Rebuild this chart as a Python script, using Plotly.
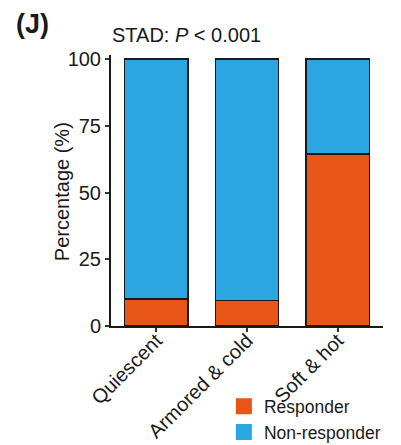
import plotly.graph_objects as go

categories = ["Quiescent", "Armored & cold", "Soft & hot"]
responder = [10.2, 9.6, 64.4]
non_responder = [89.8, 90.4, 35.6]
series_names = ["Responder", "Non-responder"]
colors = ["#E85617", "#2CA6E0"]
y_ticks = [0, 25, 50, 75, 100]

FONT = "Liberation Sans, Arial, sans-serif"

fig = go.Figure()
for name, vals, col in zip(series_names, [responder, non_responder], colors):
    fig.add_trace(go.Bar(
        x=categories, y=vals, name=name, showlegend=False,
        marker=dict(color=col, line=dict(color="#1a1a1a", width=1.5)),
    ))
    fig.add_trace(go.Scatter(
        x=[None], y=[None], mode="markers", name=name,
        marker=dict(symbol="square", size=18, color=col),
    ))

fig.update_layout(
    width=401, height=445,
    barmode="stack", bargap=0.3,
    plot_bgcolor="white", paper_bgcolor="white",
    margin=dict(l=111, r=18, t=55, b=119, autoexpand=False),
    font=dict(family=FONT, size=19, color="#1a1a1a"),
    showlegend=True,
    legend=dict(x=0.415, y=-0.23, xanchor="left", yanchor="top",
                traceorder="normal",
                itemsizing="trace", font=dict(size=17.5), tracegroupgap=0,
                bgcolor="rgba(0,0,0,0)"),
)
fig.update_xaxes(
    range=[-0.5, 2.5], showline=True, linecolor="#1a1a1a", linewidth=2,
    ticks="outside", ticklen=4, tickwidth=1.5, tickcolor="#333", automargin=False,
    tickangle=-45, tickfont=dict(size=20, color="#1a1a1a"), showgrid=False,
    ticklabelstandoff=-11,
)
fig.update_yaxes(
    range=[0, 101.5], tickvals=y_ticks, showline=True, linecolor="#1a1a1a",
    linewidth=2, ticks="outside", ticklen=4, tickwidth=1.5, tickcolor="#333",
    automargin=False,
    tickfont=dict(size=20, color="#1a1a1a"), showgrid=False, zeroline=False,
)
fig.add_annotation(text="Percentage (%)", textangle=-90, xref="paper", yref="paper",
                   x=-0.18, y=0.494, xanchor="center", yanchor="middle",
                   showarrow=False, font=dict(size=20))
fig.add_annotation(text="STAD: <i>P</i> < 0.001", xref="paper", yref="paper",
                   x=-0.005, y=1.074, xanchor="left", yanchor="middle",
                   showarrow=False, font=dict(size=20))
fig.add_annotation(text="<b>(J)</b>", xref="paper", yref="paper",
                   x=-0.355, y=1.115, xanchor="left", yanchor="middle",
                   showarrow=False, font=dict(size=27))

fig.write_html("out.html")
